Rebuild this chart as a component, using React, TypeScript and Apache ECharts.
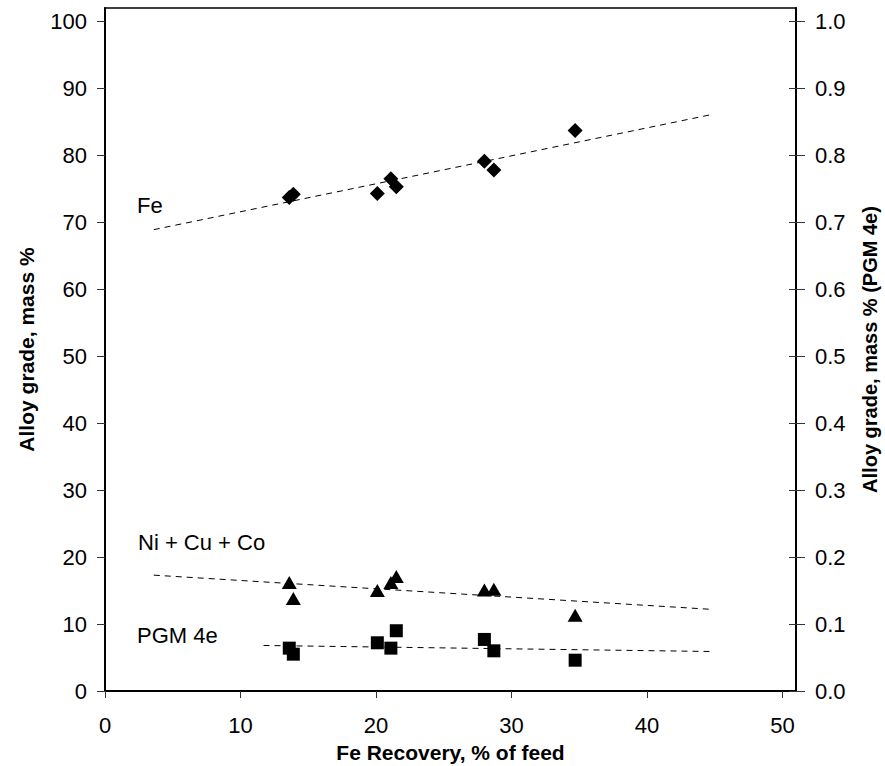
import React, { useEffect, useRef } from "react";
import * as echarts from "echarts";

// Fe recovery (% of feed) for each test
const recovery = [13.6, 13.9, 20.1, 21.1, 21.5, 28.0, 28.7, 34.7];
// Alloy grades
const feGrade = [73.7, 74.2, 74.3, 76.5, 75.3, 79.1, 77.8, 83.7];
const niCuCoGrade = [16.2, 13.8, 15.0, 16.2, 17.1, 15.1, 15.2, 11.3];
const pgmGrade = [0.064, 0.055, 0.072, 0.064, 0.09, 0.077, 0.06, 0.046];

// Trend line end points
const feTrendX = [3.6, 44.8];
const feTrendY = [68.9, 86.1];
const niTrendX = [3.6, 44.7];
const niTrendY = [17.3, 12.2];
const pgmTrendX = [11.7, 44.7];
const pgmTrendY = [0.068, 0.059];

// Tick labels
const xTicks = [0, 10, 20, 30, 40, 50];
const yLeftTicks = [0, 10, 20, 30, 40, 50, 60, 70, 80, 90, 100];
const yRightTicks = [0, 0.1, 0.2, 0.3, 0.4, 0.5, 0.6, 0.7, 0.8, 0.9, 1.0];

const FONT = "'Liberation Sans', Arial, sans-serif";

export default function App() {
  const ref = useRef<HTMLDivElement>(null);
  useEffect(() => {
    if (!ref.current) return;
    const chart = echarts.init(ref.current, null, { renderer: "svg" });
    const pairs = (xs: number[], ys: number[]) => xs.map((x, i) => [x, ys[i]]);
    const dashed = { color: "#000", width: 1, type: [6, 5] as any };
    chart.setOption({
      animation: false,
      backgroundColor: "#fff",
      textStyle: { fontFamily: FONT },
      grid: {
        left: 105,
        right: 89,
        top: 8,
        bottom: 75,
        outerBoundsMode: "none",
        containLabel: false,
        show: true,
        borderColor: "#000",
        borderWidth: 1.5,
        backgroundColor: "transparent",
      },
      xAxis: {
        type: "value",
        min: 0,
        max: 51,
        name: "Fe Recovery, % of feed",
        nameLocation: "middle",
        nameGap: 51,
        nameTextStyle: { fontFamily: FONT, fontSize: 21, fontWeight: "bold", color: "#000" },
        splitLine: { show: false },
        axisLine: { show: true, lineStyle: { color: "#000", width: 2 } },
        axisTick: { show: true, length: 7, customValues: xTicks, lineStyle: { color: "#333", width: 1 } },
        axisLabel: { customValues: xTicks, margin: 23, fontSize: 22, color: "#000", fontFamily: FONT },
      },
      yAxis: [
        {
          type: "value",
          min: 0,
          max: 102,
          position: "left",
          name: "Alloy grade, mass %",
          nameLocation: "middle",
          nameGap: 68,
          nameTextStyle: { fontFamily: FONT, fontSize: 21, fontWeight: "bold", color: "#000" },
          splitLine: { show: false },
          axisLine: { show: true, lineStyle: { color: "#000", width: 2 } },
          axisTick: { show: true, length: 8, customValues: yLeftTicks, lineStyle: { color: "#333", width: 1 } },
          axisLabel: { customValues: yLeftTicks, margin: 18, fontSize: 22, color: "#000", fontFamily: FONT },
        },
        {
          type: "value",
          min: 0,
          max: 1.02,
          position: "right",
          name: "Alloy grade, mass % (PGM 4e)",
          nameLocation: "middle",
          nameGap: 64,
          nameTextStyle: { fontFamily: FONT, fontSize: 20, fontWeight: "bold", color: "#000" },
          splitLine: { show: false },
          axisLine: { show: true, lineStyle: { color: "#000", width: 2 } },
          axisTick: { show: true, length: 9, customValues: yRightTicks, lineStyle: { color: "#333", width: 1 } },
          axisLabel: {
            customValues: yRightTicks,
            margin: 19,
            fontSize: 22,
            color: "#000",
            fontFamily: FONT,
            formatter: (v: number) => v.toFixed(1),
          },
        },
        {
          type: "value",
          min: 0,
          max: 1.02,
          position: "right",
          splitLine: { show: false },
          axisLine: { show: false },
          axisTick: { show: true, inside: true, length: 7, customValues: yRightTicks, lineStyle: { color: "#333", width: 1 } },
          axisLabel: { show: false },
        },
      ],
      graphic: [
        { type: "text", left: 137, top: 194, style: { text: "Fe", fontSize: 22, fontFamily: FONT, fill: "#000" } },
        { type: "text", left: 138, top: 531, style: { text: "Ni + Cu + Co", fontSize: 22, fontFamily: FONT, fill: "#000" } },
        { type: "text", left: 137, top: 624, style: { text: "PGM 4e", fontSize: 22, fontFamily: FONT, fill: "#000" } },
      ],
      series: [
        {
          type: "line",
          data: pairs(feTrendX, feTrendY),
          showSymbol: false,
          lineStyle: dashed,
          silent: true,
          z: 1,
        },
        {
          type: "line",
          data: pairs(niTrendX, niTrendY),
          showSymbol: false,
          lineStyle: dashed,
          silent: true,
          z: 1,
        },
        {
          type: "line",
          yAxisIndex: 1,
          data: pairs(pgmTrendX, pgmTrendY),
          showSymbol: false,
          lineStyle: dashed,
          silent: true,
          z: 1,
        },
        {
          type: "scatter",
          name: "Fe",
          data: pairs(recovery, feGrade),
          symbol: "diamond",
          symbolSize: 15,
          itemStyle: { color: "#000", opacity: 1 },
          z: 3,
        },
        {
          type: "scatter",
          name: "Ni + Cu + Co",
          data: pairs(recovery, niCuCoGrade),
          symbol: "triangle",
          symbolSize: [15, 13],
          itemStyle: { color: "#000", opacity: 1 },
          z: 3,
        },
        {
          type: "scatter",
          name: "PGM 4e",
          yAxisIndex: 1,
          data: pairs(recovery, pgmGrade),
          symbol: "rect",
          symbolSize: 13,
          itemStyle: { color: "#000", opacity: 1 },
          z: 3,
        },
      ],
    });
    return () => chart.dispose();
  }, []);
  return (
    <div
      ref={ref}
      style={{ position: "fixed", left: 0, top: 0, width: 885, height: 766, background: "#fff" }}
    />
  );
}
